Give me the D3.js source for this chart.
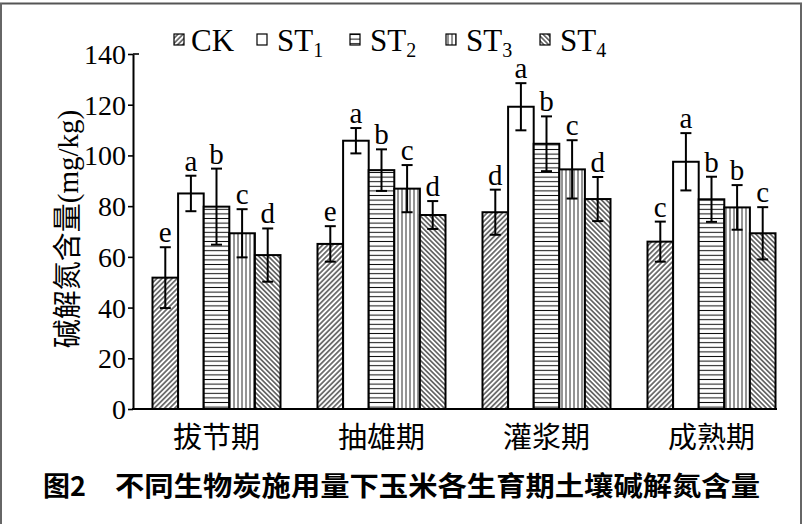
<!DOCTYPE html>
<html><head><meta charset="utf-8">
<script src="https://cdn.jsdelivr.net/npm/d3@7"></script>
<style>
html,body{margin:0;padding:0;background:#fff;}
svg{display:block;}
</style></head>
<body>
<svg id="chart" width="802" height="524"></svg>
<script>
// ---- data ----
const categories = ["拔节期", "抽雄期", "灌浆期", "成熟期"];
const seriesNames = ["CK", "ST1", "ST2", "ST3", "ST4"];
const valuesCK  = [51.8, 65.1, 77.6, 66.0];
const valuesST1 = [85.0, 105.8, 119.2, 97.5];
const valuesST2 = [79.8, 94.2, 104.6, 82.7];
const valuesST3 = [69.3, 86.9, 94.5, 79.5];
const valuesST4 = [60.7, 76.5, 82.8, 69.3];
const errCK  = [12.0, 7.0, 8.9, 7.9];
const errST1 = [7.0, 5.0, 9.3, 11.3];
const errST2 = [15.0, 8.2, 10.8, 8.9];
const errST3 = [9.5, 9.3, 11.5, 8.8];
const errST4 = [10.5, 5.5, 8.7, 10.3];
const lettersCK  = ["e", "e", "d", "c"];
const lettersST1 = ["a", "a", "a", "a"];
const lettersST2 = ["b", "b", "b", "b"];
const lettersST3 = ["c", "c", "c", "b"];
const lettersST4 = ["d", "d", "d", "c"];
const yTicks = [0, 20, 40, 60, 80, 100, 120, 140];
const yTitle = "碱解氮含量(mg/kg)";
const caption = "不同生物炭施用量下玉米各生育期土壤碱解氮含量";
const captionLabel = "图2";

const seriesValues = [valuesCK, valuesST1, valuesST2, valuesST3, valuesST4];
const seriesErr = [errCK, errST1, errST2, errST3, errST4];
const seriesLetters = [lettersCK, lettersST1, lettersST2, lettersST3, lettersST4];

const rows = [];
categories.forEach((c, ci) => {
  seriesNames.forEach((s, si) => {
    rows.push({cat: c, ser: s, si, v: seriesValues[si][ci], e: seriesErr[si][ci], l: seriesLetters[si][ci]});
  });
});

const svg = d3.select("#chart");
const serif = "'Liberation Serif','Times New Roman','Noto Sans CJK SC',serif";
const cjk = "'Noto Sans CJK SC','Noto Sans',sans-serif";

// ---- patterns ----
const defs = svg.append("defs");
function linePattern(id, size, angle, sw) {
  const p = defs.append("pattern").attr("id", id)
    .attr("patternUnits", "userSpaceOnUse")
    .attr("width", size).attr("height", size)
    .attr("patternTransform", `rotate(${angle})`);
  p.append("rect").attr("width", size).attr("height", size).attr("fill", "#fff");
  p.append("line").attr("x1", size / 2).attr("x2", size / 2).attr("y1", 0).attr("y2", size)
    .attr("stroke", "#111").attr("stroke-width", sw);
}
linePattern("pCK", 3.6, 45, 1.1);
linePattern("pST2", 4.6, 90, 1.0);
linePattern("pST3", 4.0, 0, 0.9);
linePattern("pST4", 3.4, -45, 1.1);
const fills = ["url(#pCK)", "#fff", "url(#pST2)", "url(#pST3)", "url(#pST4)"];

// ---- frame ----
svg.append("line").attr("x1", 0).attr("x2", 802).attr("y1", 3.5).attr("y2", 3.5).attr("stroke", "#555").attr("stroke-width", 2);
svg.append("line").attr("x1", 1).attr("x2", 1).attr("y1", 3).attr("y2", 524).attr("stroke", "#666").attr("stroke-width", 2);
svg.append("line").attr("x1", 801).attr("x2", 801).attr("y1", 3).attr("y2", 524).attr("stroke", "#666").attr("stroke-width", 2);

// ---- scales ----
const y = d3.scaleLinear().domain([0, 140]).range([409, 54]);
const x0 = d3.scaleBand().domain(categories).range([134, 794]).paddingInner(0.2242).paddingOuter(0.1121);
const x1 = d3.scaleBand().domain(seriesNames).range([0, x0.bandwidth()]).padding(0);

// ---- bars ----
const g = svg.append("g");
g.selectAll("rect.bar").data(rows).join("rect").attr("class", "bar")
  .attr("x", d => x0(d.cat) + x1(d.ser))
  .attr("y", d => y(d.v))
  .attr("width", x1.bandwidth())
  .attr("height", d => y(0) - y(d.v))
  .attr("fill", d => fills[d.si])
  .attr("stroke", "#000").attr("stroke-width", 2);

// error bars
const cx = d => x0(d.cat) + x1(d.ser) + x1.bandwidth() / 2;
const eb = g.selectAll("g.err").data(rows).join("g").attr("class", "err")
  .attr("stroke", "#000").attr("stroke-width", 2);
eb.append("line").attr("x1", cx).attr("x2", cx).attr("y1", d => y(d.v + d.e)).attr("y2", d => y(d.v - d.e));
eb.append("line").attr("x1", d => cx(d) - 5.5).attr("x2", d => cx(d) + 5.5).attr("y1", d => y(d.v + d.e)).attr("y2", d => y(d.v + d.e));
eb.append("line").attr("x1", d => cx(d) - 5.5).attr("x2", d => cx(d) + 5.5).attr("y1", d => y(d.v - d.e)).attr("y2", d => y(d.v - d.e));

// letters
g.selectAll("text.sig").data(rows).join("text").attr("class", "sig")
  .attr("x", cx).attr("y", d => y(d.v + d.e) - 5)
  .attr("text-anchor", "middle")
  .attr("font-family", serif).attr("font-size", 29)
  .text(d => d.l);

// ---- axes ----
const yAxis = d3.axisLeft(y).tickValues(yTicks).tickSize(5).tickSizeOuter(0).tickPadding(2);
const ya = svg.append("g").attr("transform", "translate(133,0)").call(yAxis);
ya.select(".domain").attr("stroke", "#000").attr("stroke-width", 2);
ya.selectAll(".tick line").attr("stroke", "#000").attr("stroke-width", 1.6);
ya.selectAll(".tick text").attr("font-family", serif).attr("font-size", 28).attr("fill", "#000").attr("dy", "0.34em");
svg.append("line").attr("x1", 133).attr("x2", 139).attr("y1", y(140)).attr("y2", y(140)).attr("stroke", "#000").attr("stroke-width", 1.6);

const xAxis = d3.axisBottom(x0).tickSize(0).tickSizeOuter(0);
const xa = svg.append("g").attr("transform", "translate(0,409)").call(xAxis);
xa.select(".domain").remove();
xa.selectAll(".tick text").attr("font-family", cjk).attr("font-size", 29).attr("fill", "#000")
  .attr("y", 39).attr("dy", 0);
svg.append("line").attr("x1", 132).attr("x2", 777).attr("y1", 409).attr("y2", 409).attr("stroke", "#000").attr("stroke-width", 2);

// y title
svg.append("text").attr("transform", "translate(68,229) rotate(-90)")
  .attr("text-anchor", "middle").attr("dominant-baseline", "central")
  .attr("font-family", serif).attr("font-size", 29).text(yTitle);

// ---- legend ----
const legendX = [174, 257, 350, 446, 540];
const lg = svg.append("g");
seriesNames.forEach((s, i) => {
  const it = lg.append("g").attr("transform", `translate(${legendX[i]},0)`);
  it.append("rect").attr("x", 0).attr("y", 34).attr("width", 10).attr("height", 11)
    .attr("fill", fills[i]).attr("stroke", "#000").attr("stroke-width", 1.2);
  const t = it.append("text").attr("x", i === 0 ? 17 : 20).attr("y", 51)
    .attr("font-family", serif).attr("font-size", 31);
  const m = s.match(/^([A-Z]+)(\d*)$/);
  t.append("tspan").text(m[1]);
  if (m[2]) t.append("tspan").attr("dy", 6).attr("font-size", 20).text(m[2]);
});

// ---- caption ----
svg.append("text").attr("x", 43).attr("y", 496)
  .attr("font-family", cjk).attr("font-weight", "bold").attr("font-size", 27).text(captionLabel);
svg.append("text").attr("x", 115).attr("y", 496)
  .attr("font-family", cjk).attr("font-weight", "bold").attr("font-size", 27)
  .attr("textLength", 645).attr("lengthAdjust", "spacingAndGlyphs").text(caption);
</script>
</body></html>
